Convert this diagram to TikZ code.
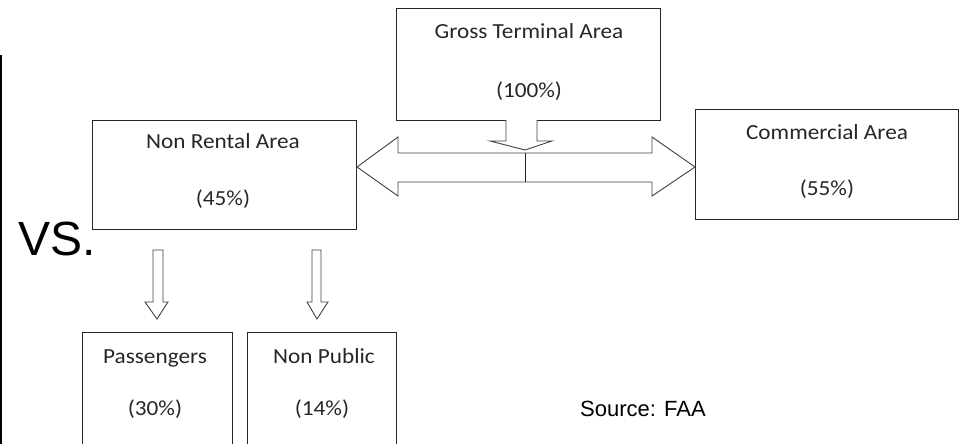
\documentclass[tikz,border=0pt]{standalone}
\usepackage{fontspec}
\newfontfamily\calib[FakeStretch=1.08]{Carlito}
\newfontfamily\arialf{Liberation Sans}
\begin{document}
\begin{tikzpicture}[x=1pt,y=-1pt,
  box/.style={draw=black!85,line width=1pt,anchor=north west,inner sep=0pt},
  lbl/.style={anchor=base,inner sep=0pt,text=black!85,font=\calib\fontsize{21.5}{24}\selectfont},
  arr/.style={draw=black!75,line width=0.9pt,fill=white,line join=miter}]
\useasboundingbox (0,0) rectangle (963,444);
\begin{scope}
\clip (0,0) rectangle (963,444);
% left rule
\draw[line width=1.2pt] (1,55) -- (1,450);
% boxes
\node[box,minimum width=264pt,minimum height=112pt] (gross) at (396,8) {};
\node[box,minimum width=264pt,minimum height=109pt] (nrent) at (92,120) {};
\node[box,minimum width=263pt,minimum height=110pt] (comm) at (695,109) {};
\node[box,minimum width=150pt,minimum height=130pt] (pass) at (82,332) {};
\node[box,minimum width=149pt,minimum height=130pt] (npub) at (247,332) {};
% labels
\node[lbl] (t1a) at (529,38) {Gross Terminal Area};
\node[lbl] (t1b) at (529,97) {(100\%)};
\node[lbl] (t2a) at (223,148) {Non Rental Area};
\node[lbl] (t2b) at (223,205) {(45\%)};
\node[lbl] (t3a) at (827,139) {Commercial Area};
\node[lbl] (t3b) at (827,195) {(55\%)};
\node[lbl] (t4a) at (155,363) {Passengers};
\node[lbl] (t4b) at (155,415) {(30\%)};
\node[lbl] (t5a) at (324,363) {Non Public};
\node[lbl] (t5b) at (322,415) {(14\%)};
\end{scope}
% double arrow between Non Rental and Commercial
\coordinate (lt) at (nrent.east |- 0,167);
\coordinate (rt) at (comm.west |- 0,167);
\draw[arr] (lt) -- (398,137) -- (398,153) -- (652,153) -- (652,137) -- (rt)
  -- (652,196) -- (652,182) -- (398,182) -- (398,196) -- cycle;
\coordinate (split) at (525,153);
\draw[draw=black!85,line width=0.9pt] (split) -- (525,182);
% down arrow from gross
\coordinate (gb) at (gross.south);
\draw[arr] (506,120) -- (506,141) -- (490,141) -- (525,150) -- (552,141) -- (537,141) -- (537,120);
% down arrows to bottom boxes
\draw[arr] (153,250) -- (153,302) -- (145,302) -- (157,319) -- (168,302) -- (163,302) -- (163,250) -- cycle;
\draw[arr] (312,250) -- (312,302) -- (307,302) -- (317,319) -- (328,302) -- (321,302) -- (321,250) -- cycle;
% other text
\node[anchor=base west,inner sep=0pt,font=\arialf\fontsize{48}{50}\selectfont] (vs) at (18,255) {VS.};
\node[anchor=base west,inner sep=0pt,font=\arialf\fontsize{22}{24}\selectfont] (src) at (580,416) {Source: FAA};
\end{tikzpicture}
\end{document}
